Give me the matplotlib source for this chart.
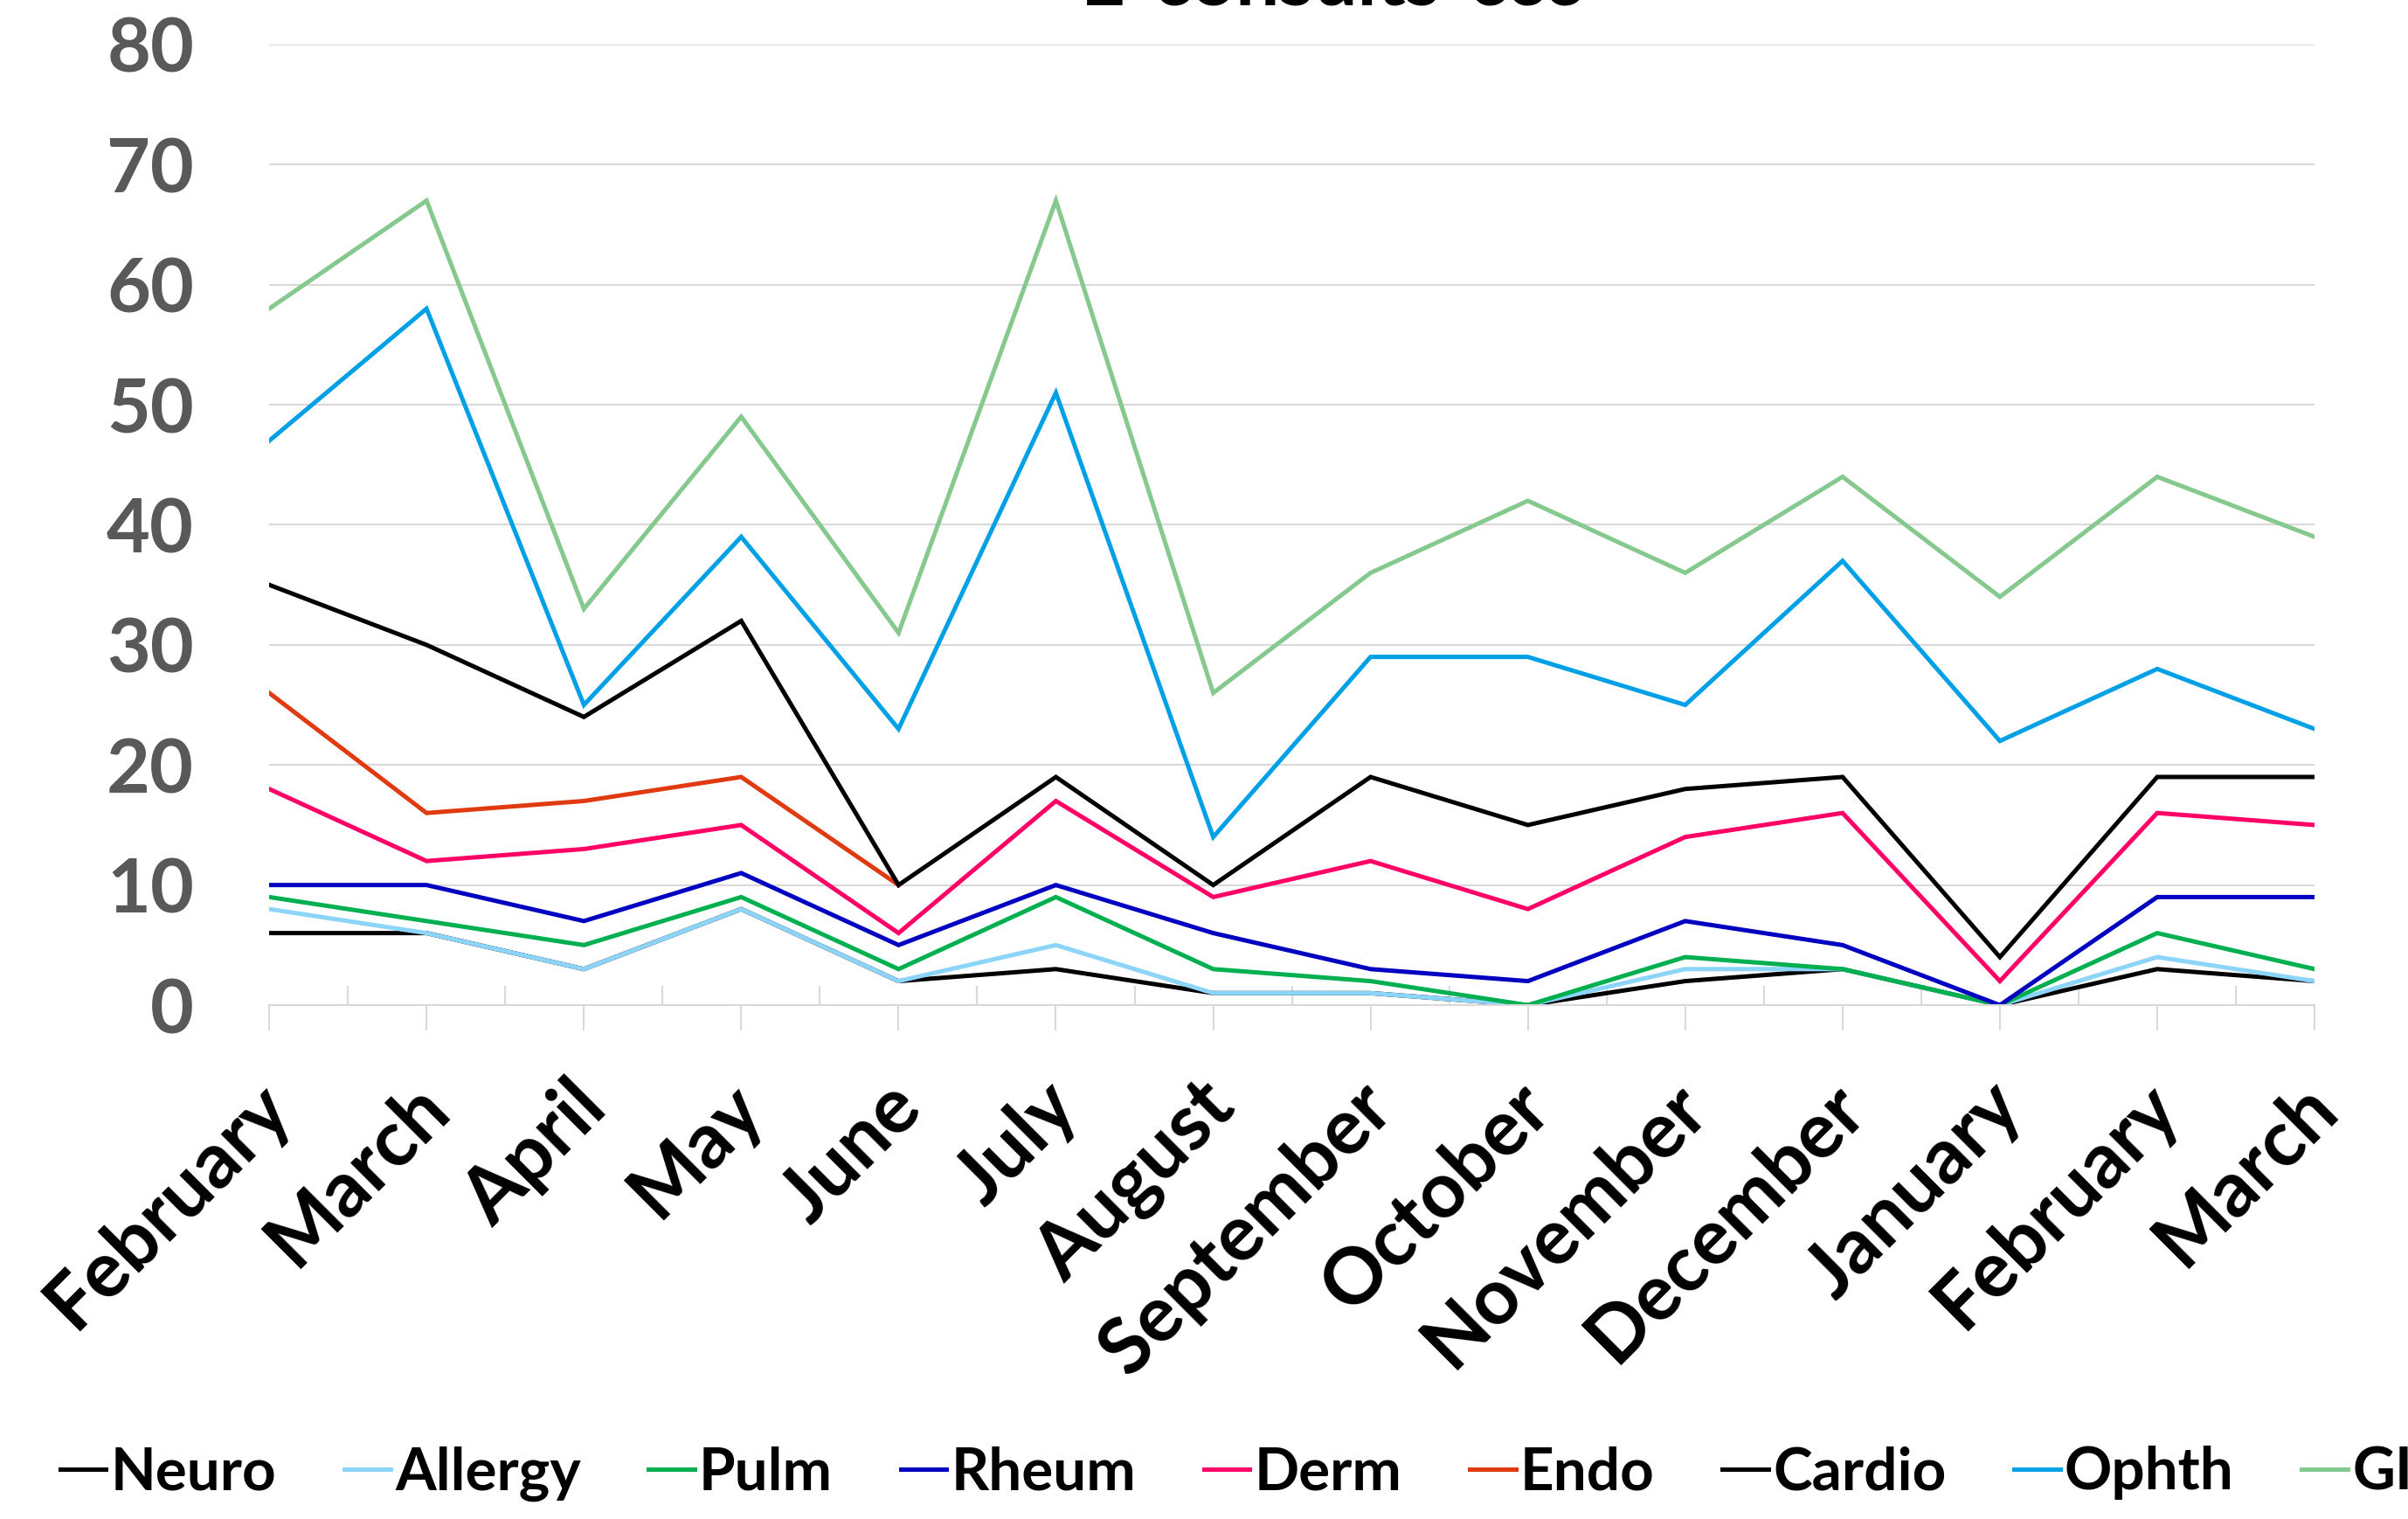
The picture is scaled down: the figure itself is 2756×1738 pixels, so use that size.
import numpy as np
import matplotlib
matplotlib.use('Agg')
import matplotlib.pyplot as plt
import matplotlib.transforms as mtransforms
from matplotlib.ticker import FixedLocator, MultipleLocator

plt.rcParams['font.family'] = ['Lato', 'DejaVu Sans']

months = ['February', 'March', 'April', 'May', 'June', 'July', 'August',
          'September', 'October', 'November', 'December', 'January',
          'February', 'March']

neuro   = [6, 6, 3, 8, 2, 3, 1, 1, 0, 2, 3, 0, 3, 2]
allergy = [8, 6, 3, 8, 2, 5, 1, 1, 0, 3, 3, 0, 4, 2]
pulm    = [9, 7, 5, 9, 3, 9, 3, 2, 0, 4, 3, 0, 6, 3]
rheum   = [10, 10, 7, 11, 5, 10, 6, 3, 2, 7, 5, 0, 9, 9]
derm    = [18, 12, 13, 15, 6, 17, 9, 12, 8, 14, 16, 2, 16, 15]
endo    = [26, 16, 17, 19, 10] + [np.nan] * 9
cardio  = [35, 30, 24, 32, 10, 19, 10, 19, 15, 18, 19, 4, 19, 19]
ophth   = [47, 58, 25, 39, 23, 51, 14, 29, 29, 25, 37, 22, 28, 23]
gi      = [58, 67, 33, 49, 31, 67, 26, 36, 42, 36, 44, 34, 44, 39]

series = [('Neuro', neuro, '#000000'),
          ('Allergy', allergy, '#8CD4FA'),
          ('Pulm', pulm, '#00B050'),
          ('Rheum', rheum, '#0000C0'),
          ('Derm', derm, '#FF0066'),
          ('Endo', endo, '#E03A10'),
          ('Cardio', cardio, '#000000'),
          ('Ophth', ophth, '#00A0E6'),
          ('GI', gi, '#86C98F')]

fig = plt.figure(figsize=(27.56, 17.38), dpi=100)
ax = fig.add_axes([0.1118, 0.3383, 0.9612 - 0.1118, 0.9707 - 0.3383])

x = np.arange(len(months))
for name, vals, col in series:
    ax.plot(x, vals, color=col, lw=3.6, label=name, solid_joinstyle='miter')

ax.set_xlim(0, len(months) - 1)
ax.set_ylim(0, 80)
ax.yaxis.set_major_locator(MultipleLocator(10))
ax.grid(axis='y', color='#D9D9D9', lw=1.5)
ax.set_axisbelow(True)
for s in ['left', 'right', 'top']:
    ax.spines[s].set_visible(False)
ax.spines['bottom'].set_color('#D9D9D9')
ax.spines['bottom'].set_linewidth(1.5)

ax.xaxis.set_major_locator(FixedLocator(x))
ax.xaxis.set_minor_locator(FixedLocator(x[:-1] + 0.5))
ax.tick_params(axis='x', which='major', direction='out', length=21, width=1.5,
               color='#D9D9D9', pad=8)
ax.tick_params(axis='x', which='minor', direction='in', length=16, width=1.5,
               color='#D9D9D9')
ax.tick_params(axis='y', length=0, pad=62)

ax.set_xticklabels(months, rotation=45, ha='right', rotation_mode='anchor',
                   fontsize=64, fontweight='bold', color='black')
offset = mtransforms.ScaledTranslation(-0.18, -0.34, fig.dpi_scale_trans)
for lbl in ax.get_xticklabels():
    lbl.set_transform(lbl.get_transform() + offset)
for lbl in ax.get_yticklabels():
    lbl.set_fontsize(62)
    lbl.set_fontweight('bold')
    lbl.set_color('#595959')

fig.text(1524 / 2756, 1 - 6 / 1738, 'E-consults-ccc', ha='center', va='baseline',
         fontsize=64, fontweight='bold', color='black')

fig.legend(loc='center left', bbox_to_anchor=(0.025, 1 - 1686 / 1738), ncol=9,
           frameon=False, prop={'weight': 'bold', 'size': 48.5},
           handlelength=0.78, handletextpad=0.08, columnspacing=1.15,
           borderpad=0, borderaxespad=0)

fig.savefig('out.png', dpi=100)
